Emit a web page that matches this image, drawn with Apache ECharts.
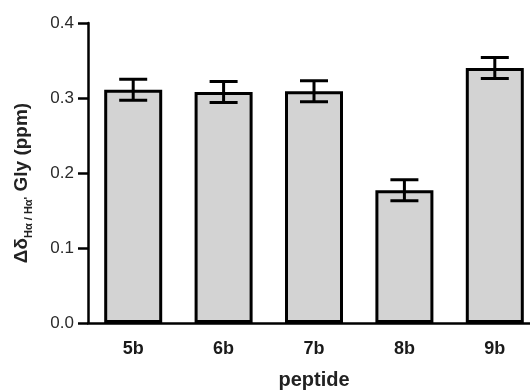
<!DOCTYPE html>
<html>
<head>
<meta charset="utf-8">
<script src="https://cdn.jsdelivr.net/npm/echarts@6/dist/echarts.min.js"></script>
<style>
  html, body { margin: 0; padding: 0; background: #fff; }
  #chart { width: 530px; height: 390px; }
</style>
</head>
<body>
<div id="chart"></div>
<script>
  var peptides = ['5b', '6b', '7b', '8b', '9b'];
  var shifts = [0.311, 0.308, 0.309, 0.177, 0.340];
  var errors = [0.014, 0.014, 0.014, 0.014, 0.014];
  var yTicks = [0, 0.1, 0.2, 0.3, 0.4];

  var errData = peptides.map(function (p, i) {
    return [i, shifts[i] - errors[i], shifts[i] + errors[i]];
  });

  var chart = echarts.init(document.getElementById('chart'));
  chart.setOption({
    animation: false,
    textStyle: { fontFamily: 'Liberation Sans' },
    grid: { left: 88, width: 452, top: 23, bottom: 67, outerBoundsMode: 'none' },
    xAxis: {
      type: 'category',
      data: peptides,
      name: 'peptide',
      nameLocation: 'middle',
      nameGap: 47,
      nameTextStyle: { fontSize: 20, fontWeight: 'bold', color: '#222' },
      axisLine: { lineStyle: { color: '#000', width: 2.5 } },
      axisTick: { alignWithLabel: true, length: 9, lineStyle: { color: '#000', width: 2.5 } },
      axisLabel: { fontSize: 18, fontWeight: 'bold', color: '#1a1a1a', margin: 17 }
    },
    yAxis: {
      type: 'value',
      min: yTicks[0],
      max: yTicks[yTicks.length - 1],
      interval: 0.1,
      splitLine: { show: false },
      axisLine: { show: true, lineStyle: { color: '#000', width: 2.5 } },
      axisTick: { show: true, length: 10, lineStyle: { color: '#000', width: 2.5 } },
      axisLabel: {
        fontSize: 17, color: '#2a2a2a', margin: 14,
        formatter: function (v) { return v.toFixed(1); }
      },
      name: '{a|Δδ}{s|Hα / Hα\'}{a| Gly (ppm)}',
      nameLocation: 'middle',
      nameRotate: 90,
      nameGap: 54,
      nameTextStyle: {
        padding: [0, 0, 0, -20],
        rich: {
          a: { fontSize: 19, fontWeight: 'bold', color: '#222', lineHeight: 24, verticalAlign: 'middle' },
          s: { fontSize: 11, fontWeight: 'bold', color: '#222', verticalAlign: 'bottom', padding: [10, 0, 0, 0] }
        }
      }
    },
    series: [
      {
        type: 'bar',
        data: shifts,
        barWidth: 58,
        itemStyle: { color: '#d3d3d3', borderColor: '#000', borderWidth: 3 }
      },
      {
        type: 'custom',
        data: errData,
        z: 10,
        renderItem: function (params, api) {
          var x = api.value(0);
          var lo = api.coord([x, api.value(1)]);
          var hi = api.coord([x, api.value(2)]);
          var half = 14;
          var st = { stroke: '#000', lineWidth: 3 };
          return {
            type: 'group',
            children: [
              { type: 'line', shape: { x1: lo[0], y1: lo[1], x2: hi[0], y2: hi[1] }, style: st },
              { type: 'line', shape: { x1: lo[0] - half, y1: lo[1], x2: lo[0] + half, y2: lo[1] }, style: st },
              { type: 'line', shape: { x1: hi[0] - half, y1: hi[1], x2: hi[0] + half, y2: hi[1] }, style: st }
            ]
          };
        }
      }
    ]
  });
</script>
</body>
</html>
